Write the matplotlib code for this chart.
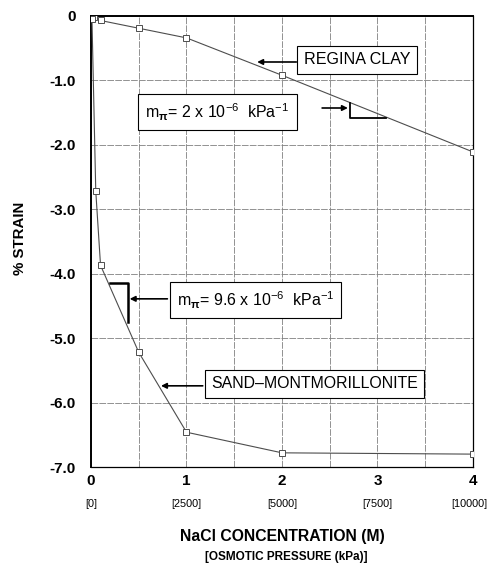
import matplotlib.pyplot as plt

plt.rcParams["font.family"] = ["Liberation Sans", "DejaVu Sans"]
plt.rcParams["mathtext.fontset"] = "custom"
plt.rcParams["mathtext.rm"] = "Liberation Sans"
plt.rcParams["mathtext.it"] = "Liberation Sans"
plt.rcParams["mathtext.bf"] = "Liberation Sans:bold"

# datos
regina_conc = [0.0, 0.03, 0.1, 0.5, 1.0, 2.0, 4.0]
regina_strain = [0.0, -0.02, -0.07, -0.19, -0.34, -0.92, -2.11]

sand_conc = [0.0, 0.01, 0.05, 0.1, 0.5, 1.0, 2.0, 4.0]
sand_strain = [0.0, -0.04, -2.72, -3.87, -5.22, -6.46, -6.78, -6.80]

conc_ticks = [0, 1, 2, 3, 4]
osm_labels = ["[0]", "[2500]", "[5000]", "[7500]", "[10000]"]
strain_ticks = [0, -1, -2, -3, -4, -5, -6, -7]
strain_labels = ["0", "-1.0", "-2.0", "-3.0", "-4.0", "-5.0", "-6.0", "-7.0"]

fig = plt.figure(figsize=(4.9, 5.63), dpi=100)
ax = fig.add_axes([0.1857, 0.1705, 0.7796, 0.8011])

ax.plot(regina_conc, regina_strain, color="0.3", lw=0.8, marker="s", ms=4.2,
        mfc="white", mec="0.3", mew=0.7, zorder=3)
ax.plot(sand_conc, sand_strain, color="0.3", lw=0.8, marker="s", ms=4.2,
        mfc="white", mec="0.3", mew=0.7, zorder=3)

ax.set_xlim(0, 4)
ax.set_ylim(-7, 0)
ax.set_xticks(conc_ticks)
ax.set_xticklabels([str(c) for c in conc_ticks], fontsize=11, fontweight="bold")
ax.set_xticks([0.5, 1.5, 2.5, 3.5], minor=True)
ax.set_yticks(strain_ticks)
ax.set_yticklabels(strain_labels, fontsize=11, fontweight="bold")
ax.tick_params(axis="both", which="both", length=0)
ax.tick_params(axis="y", pad=11)
ax.tick_params(axis="x", pad=5)
ax.grid(True, which="both", color="0.5", lw=0.6, ls=(0, (8, 1.5)))
for s in ax.spines.values():
    s.set_linewidth(0.9)
ax.spines["left"].set_linewidth(1.4)
ax.spines["top"].set_linewidth(1.4)

# etiquetas de presion osmotica (la ultima un poco a la izquierda para que quepa)
for c, lab in zip(conc_ticks, osm_labels):
    xpos = c - 0.04 if c == conc_ticks[-1] else c
    ax.text(xpos, -0.081, lab, transform=ax.get_xaxis_transform(), ha="center",
            va="center", fontsize=7.8)

fig.text(282 / 490, 1 - 537 / 563, "NaCl CONCENTRATION (M)", ha="center", va="center",
         fontsize=11.3, fontweight="bold")
fig.text(286 / 490, 1 - 557 / 563, "[OSMOTIC PRESSURE (kPa)]", ha="center", va="center",
         fontsize=8.5, fontweight="bold")
fig.text(20 / 490, 1 - 238 / 563, "% STRAIN", rotation=90, ha="center", va="center",
         fontsize=10.8, fontweight="bold")

box = dict(boxstyle="square,pad=0.4", fc="white", ec="black", lw=0.8)
box_m = dict(boxstyle="square,pad=0.45", fc="white", ec="black", lw=0.8)
arrow = dict(arrowstyle="-|>", color="black", lw=1.2, mutation_scale=8, shrinkA=0, shrinkB=0)

# etiquetas con flecha
ax.text(2.785, -0.683, "REGINA CLAY", ha="center", va="center", fontsize=11.6, bbox=box, zorder=5)
ax.annotate("", xy=(1.74, -0.714), xytext=(2.15, -0.714), arrowprops=arrow, zorder=5)

ax.text(1.325, -1.49, r"m$_{\mathbf{\pi}}$= 2 x 10$^{-6}$  kPa$^{-1}$", ha="center",
        va="center", fontsize=11.5, bbox=box_m, zorder=5)
ax.annotate("", xy=(2.69, -1.428), xytext=(2.42, -1.428), arrowprops=arrow, zorder=5)
ax.plot([2.712, 2.712, 3.09], [-1.35, -1.583, -1.583], color="black", lw=1.3, zorder=4)

ax.text(1.723, -4.41, r"m$_{\mathbf{\pi}}$= 9.6 x 10$^{-6}$  kPa$^{-1}$", ha="center",
        va="center", fontsize=11.5, bbox=box_m, zorder=5)
ax.annotate("", xy=(0.405, -4.39), xytext=(0.8, -4.39), arrowprops=arrow, zorder=5)
ax.plot([0.2, 0.387, 0.387], [-4.144, -4.144, -4.75], color="black", lw=1.8, zorder=4)

ax.text(2.34, -5.71, "SAND\u2013MONTMORILLONITE", ha="center", va="center", fontsize=11.4,
        bbox=box, zorder=5)
ax.annotate("", xy=(0.733, -5.74), xytext=(1.17, -5.74), arrowprops=arrow, zorder=5)

fig.savefig("out.png", dpi=100)
